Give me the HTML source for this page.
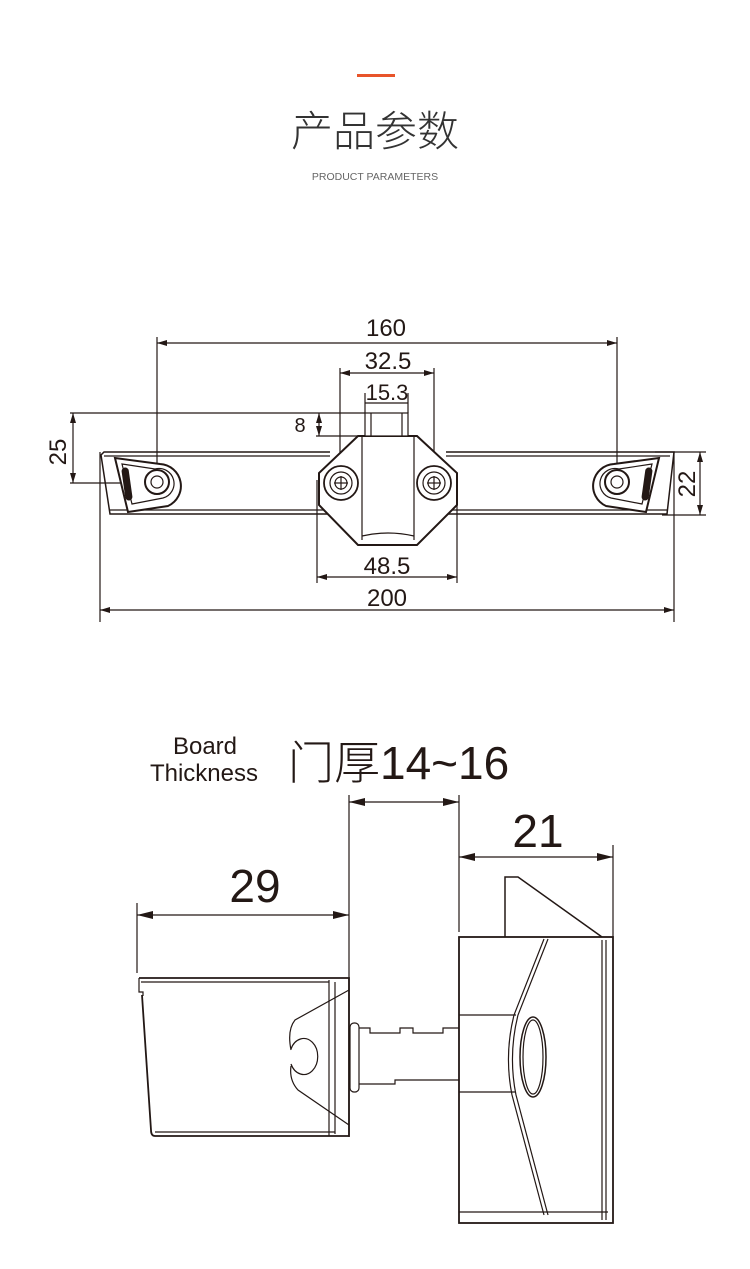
<!DOCTYPE html>
<html><head><meta charset="utf-8"><style>
html,body{margin:0;padding:0;background:#fff;width:750px;height:1269px;overflow:hidden}
svg{display:block}
</style></head><body>
<svg width="750" height="1269" viewBox="0 0 750 1269" xmlns="http://www.w3.org/2000/svg">
<defs>
<marker id="a" viewBox="0 0 10 6" refX="10" refY="3" markerWidth="10" markerHeight="6" orient="auto-start-reverse" markerUnits="userSpaceOnUse"><path d="M0,0L10,3L0,6z" fill="#231815"/></marker>
<marker id="b" viewBox="0 0 16 8" refX="16" refY="4" markerWidth="16" markerHeight="8" orient="auto-start-reverse" markerUnits="userSpaceOnUse"><path d="M0,0L16,4L0,8z" fill="#231815"/></marker>
</defs>
<rect x="357" y="74" width="38" height="3" fill="#e8542a"/>
<text x="375" y="146" text-anchor="middle" font-family="'Noto Sans CJK SC',sans-serif" font-size="42" fill="#333" font-weight="300">产品参数</text>
<text x="375" y="180" text-anchor="middle" font-family="'Liberation Sans',sans-serif" font-size="10.5" fill="#666">PRODUCT PARAMETERS</text>

<g stroke="#231815" fill="none" stroke-width="1.2" font-family="'Liberation Sans',sans-serif">
<line x1="157" y1="337" x2="157" y2="482"/><line x1="617" y1="337" x2="617" y2="482"/>
<line x1="157" y1="343" x2="617" y2="343" marker-start="url(#a)" marker-end="url(#a)"/>
<line x1="340" y1="368" x2="340" y2="470"/><line x1="434" y1="368" x2="434" y2="470"/>
<line x1="340" y1="373" x2="434" y2="373" marker-start="url(#a)" marker-end="url(#a)"/>
<line x1="365" y1="393" x2="365" y2="413"/><line x1="408" y1="393" x2="408" y2="413"/>
<line x1="365" y1="403" x2="408" y2="403"/>
<line x1="70" y1="413" x2="365" y2="413"/>
<line x1="316" y1="436" x2="358" y2="436"/>
<line x1="319" y1="413" x2="319" y2="436" marker-start="url(#a)" marker-end="url(#a)"/>
<line x1="70" y1="483" x2="157" y2="483"/>
<line x1="73" y1="413" x2="73" y2="483" marker-start="url(#a)" marker-end="url(#a)"/>
<line x1="655" y1="452" x2="706" y2="452"/><line x1="662" y1="515" x2="706" y2="515"/>
<line x1="700" y1="452" x2="700" y2="515" marker-start="url(#a)" marker-end="url(#a)"/>
<line x1="317" y1="480" x2="317" y2="583"/><line x1="457" y1="480" x2="457" y2="583"/>
<line x1="317" y1="577" x2="457" y2="577" marker-start="url(#a)" marker-end="url(#a)"/>
<line x1="100" y1="452" x2="100" y2="622"/><line x1="674" y1="452" x2="674" y2="622"/>
<line x1="100" y1="610" x2="674" y2="610" marker-start="url(#a)" marker-end="url(#a)"/>
<!-- bar -->
<path d="M330,452 L104,452 L101,455 L110,514 L330,514" stroke-width="1.5"/>
<path d="M446,452 L674,452 L667,514 L446,514" stroke-width="1.5"/>
<line x1="104" y1="456" x2="330" y2="456"/><line x1="446" y1="456" x2="670" y2="456"/>
<line x1="110" y1="510" x2="330" y2="510"/><line x1="446" y1="510" x2="667" y2="510"/>
<!-- left end cap -->
<path d="M115,458 L160,464 A22,22 0 0 1 168,506 L128,512 Z" stroke-width="2" fill="#fff"/>
<path d="M122,464 L155,469 A15,15 0 0 1 163,498 L132,504 Z"/>
<rect x="124" y="468" width="6" height="32" rx="3" fill="#231815" transform="rotate(-8 127 484)"/>
<circle cx="157" cy="482" r="12" stroke-width="2"/><circle cx="157" cy="482" r="6"/>
<!-- right end cap -->
<path d="M659,458 L614,464 A22,22 0 0 0 606,506 L646,512 Z" stroke-width="2" fill="#fff"/>
<path d="M652,464 L619,469 A15,15 0 0 0 611,498 L642,504 Z"/>
<rect x="644" y="468" width="6" height="32" rx="3" fill="#231815" transform="rotate(8 647 484)"/>
<circle cx="617" cy="482" r="12" stroke-width="2"/><circle cx="617" cy="482" r="6"/>
<!-- central body -->
<path d="M358,436 L417,436 L457,473 L457,505 L417,545 L358,545 L319,505 L319,473 Z" fill="#fff" stroke-width="2"/>
<line x1="362" y1="436" x2="362" y2="540"/><line x1="414" y1="436" x2="414" y2="540"/>
<path d="M362,536 Q388,530 414,536"/>
<rect x="365" y="413" width="43" height="23" fill="#fff"/>
<line x1="371" y1="413" x2="371" y2="436"/><line x1="402" y1="413" x2="402" y2="436"/>
<circle cx="341" cy="483" r="17" stroke-width="1.8"/><circle cx="341" cy="483" r="11"/><circle cx="341" cy="483" r="6"/>
<line x1="341" y1="476" x2="341" y2="490"/><line x1="334" y1="483" x2="348" y2="483"/>
<circle cx="434" cy="483" r="17" stroke-width="1.8"/><circle cx="434" cy="483" r="11"/><circle cx="434" cy="483" r="6"/>
<line x1="434" y1="476" x2="434" y2="490"/><line x1="427" y1="483" x2="441" y2="483"/>

<!-- bottom drawing dims -->
<line x1="137" y1="903" x2="137" y2="973"/>
<line x1="349" y1="795" x2="349" y2="1137"/>
<line x1="137" y1="915" x2="349" y2="915" marker-start="url(#b)" marker-end="url(#b)"/>
<line x1="459" y1="795" x2="459" y2="932"/>
<line x1="349" y1="802" x2="459" y2="802" marker-start="url(#b)" marker-end="url(#b)"/>
<line x1="613" y1="845" x2="613" y2="937"/>
<line x1="459" y1="857" x2="613" y2="857" marker-start="url(#b)" marker-end="url(#b)"/>
<!-- left box -->
<path d="M139,978 L349,978 L349,1136 L155,1136 Q151,1136 151,1130 L142,995" stroke-width="1.8"/>
<line x1="141" y1="982" x2="329" y2="982"/>
<path d="M139,978 L139,992 L143,992 L143,996"/>
<line x1="329" y1="980" x2="329" y2="1136"/><line x1="335" y1="982" x2="335" y2="1134"/>
<line x1="155" y1="1132" x2="335" y2="1132"/>
<path d="M349,990 L295,1020 Q287,1030 291,1050 M349,1125 L298,1090 Q289,1080 291,1066"/>
<path d="M291,1049 A14,18 0 1 1 291,1064"/>
<!-- shaft -->
<rect x="350" y="1023" width="9" height="69" rx="4" fill="#fff"/>
<path d="M359,1028 L370,1028 L370,1033 L400,1033 L400,1028 L413,1028 L413,1033 L443,1033 L443,1028 L459,1028 M359,1084 L395,1084 L395,1080 L459,1080" />
<!-- right body -->
<path d="M505,937 L505,877 L518,877 L602,937" stroke-width="1.5"/>
<rect x="459" y="937" width="154" height="286" fill="#fff" stroke-width="1.8"/>
<line x1="602" y1="940" x2="602" y2="1220"/><line x1="606" y1="940" x2="606" y2="1220"/>
<line x1="459" y1="1015" x2="516" y2="1015"/><line x1="459" y1="1092" x2="516" y2="1092"/>
<path d="M548,939 L518,1015 Q508,1055 516,1095 L548,1215"/>
<path d="M544,939 L514,1015 Q504,1055 512,1095 L544,1215"/>
<line x1="459" y1="1212" x2="608" y2="1212"/>
<ellipse cx="533" cy="1057" rx="13" ry="40" stroke-width="1.5"/>
<ellipse cx="533" cy="1057" rx="10" ry="37"/>
</g>
<g font-family="'Liberation Sans',sans-serif" fill="#231815">
<text x="386" y="336" text-anchor="middle" font-size="24">160</text>
<text x="388" y="369" text-anchor="middle" font-size="24">32.5</text>
<text x="387" y="400" text-anchor="middle" font-size="22">15.3</text>
<text x="300" y="432" text-anchor="middle" font-size="20">8</text>
<text x="387" y="574" text-anchor="middle" font-size="24">48.5</text>
<text x="387" y="606" text-anchor="middle" font-size="24">200</text>
<text transform="translate(66,452) rotate(-90)" text-anchor="middle" font-size="24">25</text>
<text transform="translate(695,484) rotate(-90)" text-anchor="middle" font-size="24">22</text>
<text x="255" y="902" text-anchor="middle" font-size="46" font-weight="300">29</text>
<text x="538" y="847" text-anchor="middle" font-size="46">21</text>
<text x="205" y="754" text-anchor="middle" font-size="24">Board</text>
<text x="204" y="781" text-anchor="middle" font-size="24">Thickness</text>
<text x="288" y="779" font-family="'Liberation Sans','Noto Sans CJK SC',sans-serif" font-size="46" font-weight="300">门厚14~16</text>
</g>
</svg>
</body></html>
